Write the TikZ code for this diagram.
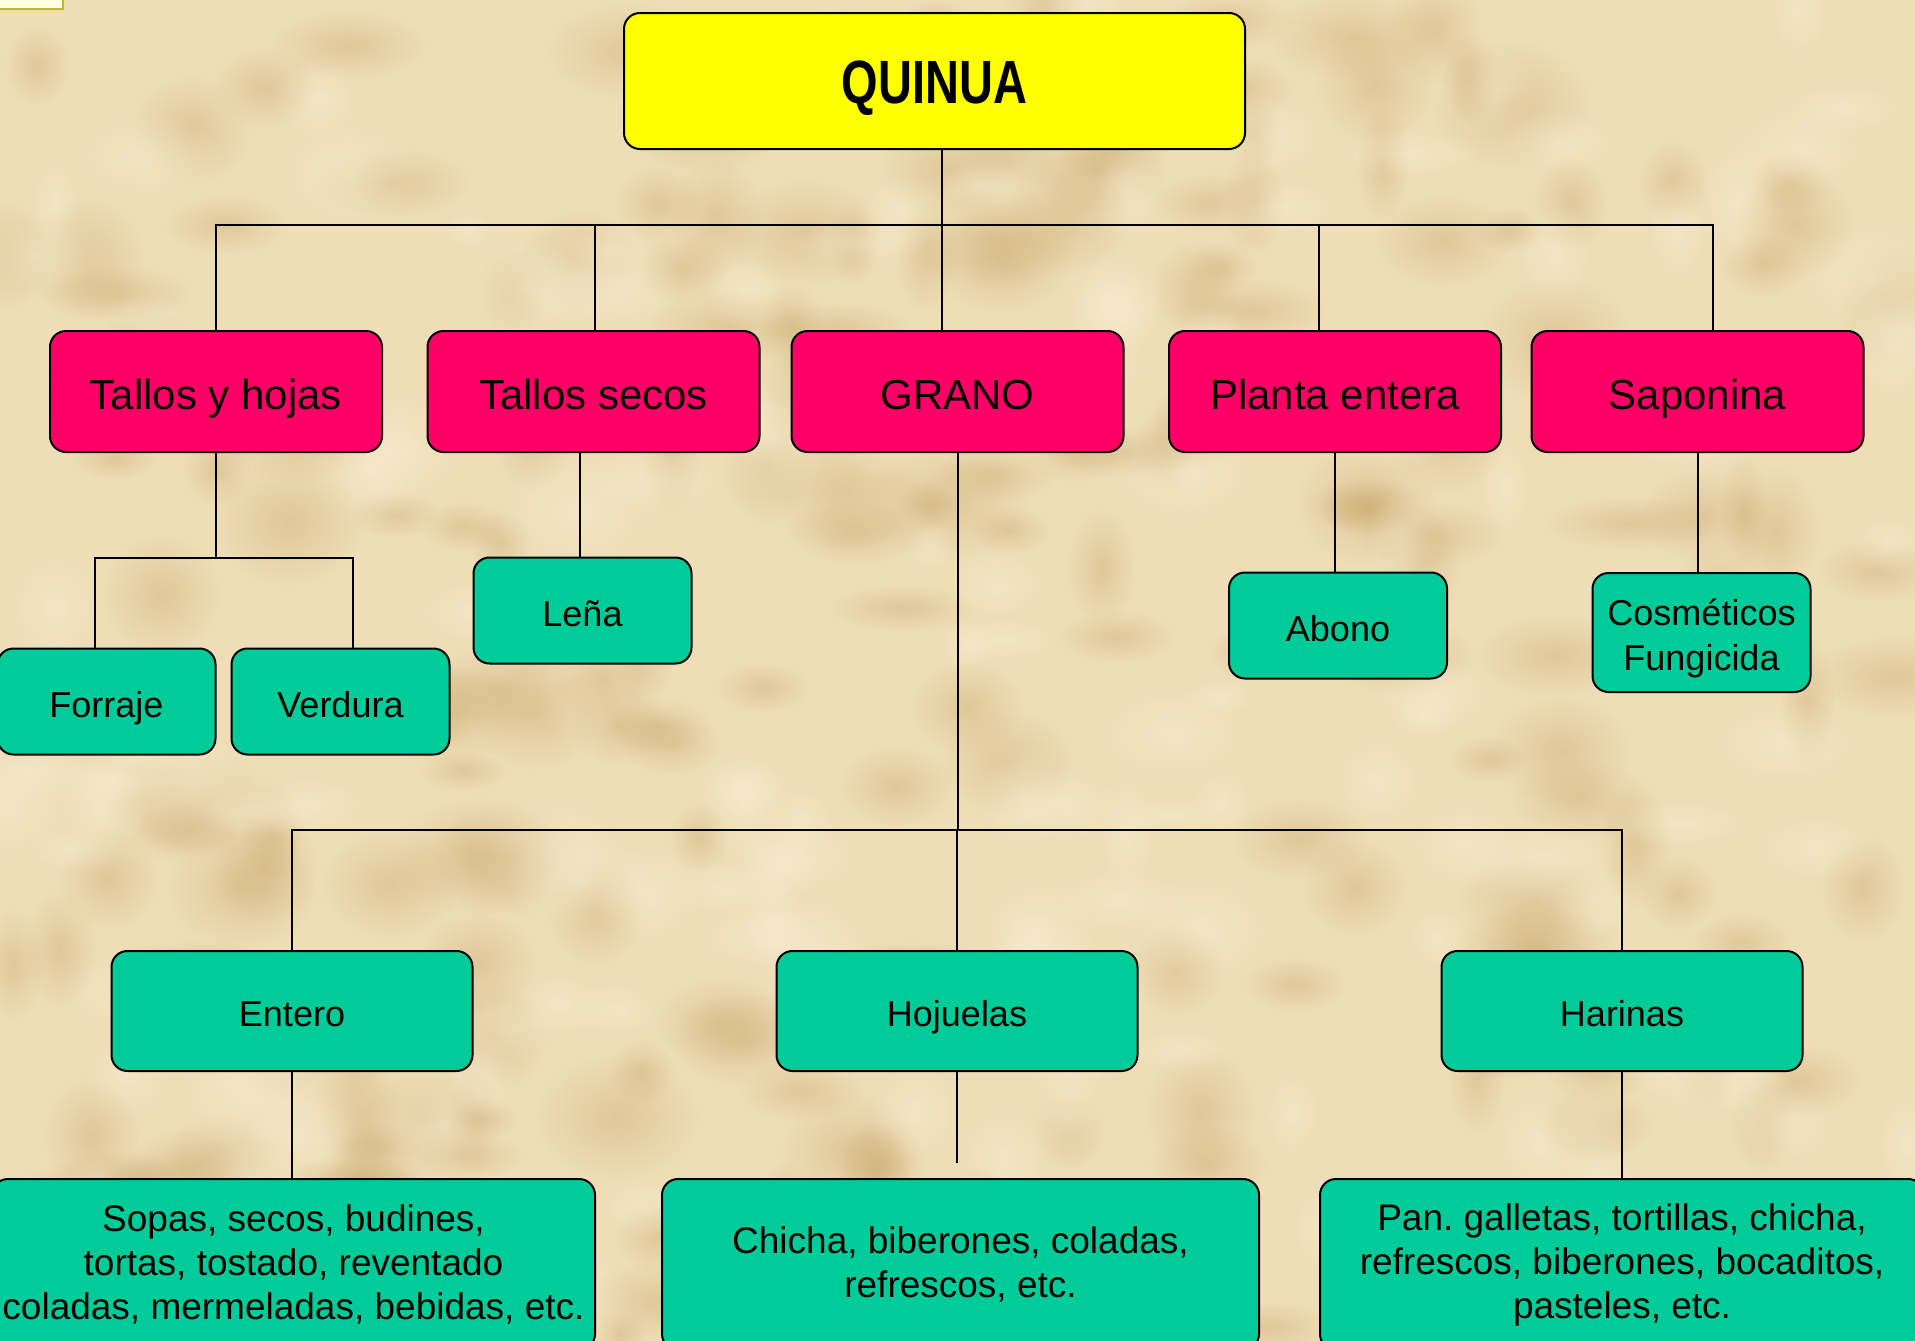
\documentclass[tikz,border=0pt]{standalone}
\usepackage{fontspec}
\setmainfont{Liberation Sans}
\usepackage{graphicx}
\usetikzlibrary{fadings}
\frenchspacing
\definecolor{bg}{RGB}{238,221,182}
\definecolor{blot}{RGB}{200,165,105}
\definecolor{blotlight}{RGB}{252,242,218}
\definecolor{qyel}{RGB}{255,255,0}
\definecolor{qpink}{RGB}{255,0,102}
\definecolor{qgreen}{RGB}{0,204,153}
\definecolor{tagline}{RGB}{190,190,20}
\definecolor{tagfill}{RGB}{255,255,228}
\tikzfading[name=fuzz, inner color=transparent!62, outer color=transparent!100]
\begin{document}
\begin{tikzpicture}[x=1pt,y=-1pt,
  box/.style={draw=black, line width=2pt, rounded corners=16pt, inner sep=0pt, text=black},
  topbox/.style={box, fill=qyel, minimum width=621pt, minimum height=136pt, font=\fontsize{47}{56}\selectfont\bfseries, text height=45pt, text depth=0pt},
  catbox/.style={box, fill=qpink, minimum width=332pt, minimum height=121pt, font=\fontsize{42}{50}\selectfont, text height=35pt, text depth=0pt},
  leafbox/.style={box, fill=qgreen, minimum width=218pt, minimum height=106pt, font=\fontsize{36}{45}\selectfont, text height=31pt, text depth=0pt},
  midbox/.style={box, fill=qgreen, minimum width=361pt, minimum height=120pt, font=\fontsize{36}{45}\selectfont, text height=31pt, text depth=0pt},
  prodbox/.style={box, align=center, fill=qgreen, minimum width=600pt, minimum height=171pt, font=\fontsize{37}{44}\selectfont},
  link/.style={draw=black, line width=2pt}]
\useasboundingbox (0,0) rectangle (1915,1341);
\clip (0,0) rectangle (1915,1341);
\fill[bg] (0,0) rectangle (1915,1341);
% parchment mottling
\pgfmathsetseed{7}
\foreach \i in {1,...,220}{
  \pgfmathsetmacro{\px}{rnd*1915}
  \pgfmathsetmacro{\py}{rnd*1341}
  \pgfmathsetmacro{\ra}{25+rnd*60}
  \pgfmathsetmacro{\rb}{20+rnd*45}
  \fill[blot, path fading=fuzz] (\px,\py) ellipse[x radius=\ra, y radius=\rb];
}
\foreach \i in {1,...,160}{
  \pgfmathsetmacro{\px}{rnd*1915}
  \pgfmathsetmacro{\py}{rnd*1341}
  \pgfmathsetmacro{\ra}{25+rnd*60}
  \pgfmathsetmacro{\rb}{20+rnd*45}
  \fill[blotlight, path fading=fuzz] (\px,\py) ellipse[x radius=\ra, y radius=\rb];
}
\draw[draw=tagline, fill=tagfill, line width=1.5pt] (-5,-5) rectangle (63,9);

% top
\node[topbox] (quinua) at (934.5,81) {\scalebox{1}[1.3]{QUINUA}};

% categories
\node[catbox] (th) at (216,391.5) {Tallos y hojas};
\node[catbox] (ts) at (593.5,391.5) {Tallos secos};
\node[catbox] (grano) at (957.5,391.5) {GRANO};
\node[catbox] (pe) at (1335,391.5) {Planta entera};
\node[catbox] (sap) at (1697.5,391.5) {Saponina};

% leaves
\node[leafbox] (forraje) at (106.5,701.5) {Forraje};
\node[leafbox] (verdura) at (340.5,701.5) {Verdura};
\node[leafbox] (lena) at (582.5,610.5) {Leña};
\node[leafbox] (abono) at (1338,625.5) {Abono};
\node[box, fill=qgreen, minimum width=218pt, minimum height=119pt, font=\fontsize{36}{45}\selectfont] (cosm) at (1701.5,632.5)
  {\raisebox{0pt}[30pt][45pt]{\begin{tabular}[t]{@{}c@{}}Cosméticos\\Fungicida\end{tabular}}};

% grano children
\node[midbox] (entero) at (292,1011) {Entero};
\node[midbox] (hoj) at (957,1011) {Hojuelas};
\node[midbox] (har) at (1622,1011) {Harinas};

% products
\node[prodbox, minimum width=603pt] (sopas) at (293.5,1264.5) {Sopas, secos, budines,\\tortas, tostado, reventado\\coladas, mermeladas, bebidas, etc.};
\node[prodbox, minimum width=597pt] (chicha) at (960.5,1264.5) {Chicha, biberones, coladas,\\refrescos, etc.};
\node[prodbox, minimum width=604pt] (pan) at (1622,1264.5) {Pan. galletas, tortillas, chicha,\\refrescos, biberones, bocaditos,\\pasteles, etc.};

% connectors level 1
\coordinate (b1) at (942,225);
\draw[link] (quinua.south -| b1) -- (grano.north -| b1);
\draw[link] (th.north) -- (th.north |- b1) -- ([xshift=15.5pt]sap.north |- b1) -- ([xshift=15.5pt]sap.north);
\draw[link] ([xshift=1.5pt]ts.north) -- ([xshift=1.5pt]ts.north |- b1);
\draw[link] ([xshift=-16pt]pe.north) -- ([xshift=-16pt]pe.north |- b1);

% tallos y hojas
\coordinate (c1) at (216,558);
\draw[link] (th.south) -- (c1);
\draw[link] ([xshift=-11.5pt]forraje.north) -- ([xshift=-11.5pt]forraje.north |- c1) -- ([xshift=12.5pt]verdura.north |- c1) -- ([xshift=12.5pt]verdura.north);
% tallos secos
\draw[link] ([xshift=-3pt]lena.north) -- ([xshift=-3pt]lena.north |- ts.south);
% planta entera, saponina
\draw[link] (pe.south) -- (pe.south |- abono.north);
\draw[link] (sap.south) -- (sap.south |- cosm.north);

% grano
\coordinate (b2) at (957.5,830);
\draw[link] (grano.south) -- (b2);
\draw[link] (entero.north) -- (entero.north |- b2) -- (har.north |- b2) -- (har.north);
\draw[link] (hoj.north) -- (hoj.north |- b2);

% products
\coordinate (hojend) at (957,1163);
\draw[link] (entero.south) -- (sopas.north -| entero.south);
\draw[link] (hoj.south) -- (hojend);
\draw[link] (har.south) -- (pan.north -| har.south);
\end{tikzpicture}
\end{document}
